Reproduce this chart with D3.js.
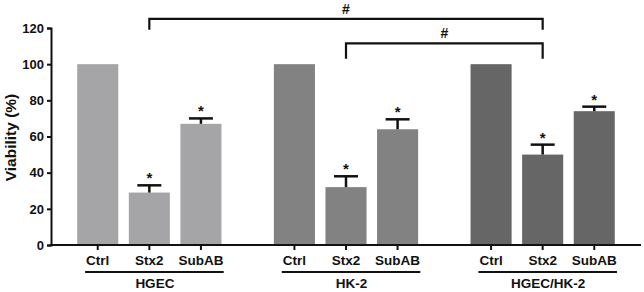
<!DOCTYPE html>
<html><head><meta charset="utf-8">
<script src="https://cdn.jsdelivr.net/npm/d3@7"></script>
<style>
body{margin:0;background:#fff;}
text{font-family:"Liberation Sans",Arial,sans-serif;font-weight:bold;fill:#111;}
</style></head>
<body><svg id="c" width="644" height="292"></svg>
<script>
const groups = ["HGEC", "HK-2", "HGEC/HK-2"];
const treatments = ["Ctrl", "Stx2", "SubAB"];
const values = [[100, 29, 67], [100, 32, 64], [100, 50, 74]];
const errors = [[0, 4, 3], [0, 6, 5.5], [0, 5.5, 2.5]];
const significant = [[false, true, true], [false, true, true], [false, true, true]];
const groupColors = ["#a5a5a7", "#828282", "#666666"];
const yTicks = [0, 20, 40, 60, 80, 100, 120];
// brackets: [fromGroup, fromTreatment, toGroup, toTreatment, topValue, legValue]
const brackets = [[0, 1, 2, 1, 125, 119], [1, 1, 2, 1, 111.5, 103]];

const svg = d3.select("#c");
const x0 = 51, x1 = 641, yTop = 28, yBot = 245;
const y = d3.scaleLinear().domain([0, 120]).range([yBot, yTop]);
const gx = d3.scaleBand().domain(groups).range([x0, x1]).paddingInner(0.213).paddingOuter(0.1065);
const ix = d3.scaleBand().domain(treatments).range([0, gx.bandwidth()]).paddingInner(0.204).paddingOuter(0.102);
const cx = (g, t) => gx(groups[g]) + ix(treatments[t]) + ix.bandwidth() / 2;

// bars
groups.forEach((g, gi) => {
  const gg = svg.append("g");
  gg.selectAll("rect").data(values[gi]).join("rect")
    .attr("x", (d, i) => gx(g) + ix(treatments[i]))
    .attr("width", ix.bandwidth())
    .attr("y", d => y(d))
    .attr("height", d => yBot - y(d))
    .attr("fill", groupColors[gi]);
  values[gi].forEach((v, i) => {
    const e = errors[gi][i];
    const c = cx(gi, i);
    if (e > 0) {
      svg.append("line").attr("x1", c).attr("x2", c).attr("y1", y(v)).attr("y2", y(v + e))
        .attr("stroke", "#111").attr("stroke-width", 2.5);
      svg.append("line").attr("x1", c - 12).attr("x2", c + 12).attr("y1", y(v + e)).attr("y2", y(v + e))
        .attr("stroke", "#111").attr("stroke-width", 2.5);
    }
    if (significant[gi][i]) {
      svg.append("text").attr("x", c).attr("y", y(v + e) - 2).attr("text-anchor", "middle")
        .style("font-size", "15px").text("*");
    }
  });
});

// y axis
const yAxis = svg.append("g").attr("transform", `translate(${x0},0)`)
  .call(d3.axisLeft(y).tickValues(yTicks).tickSize(4).tickPadding(3));
yAxis.select(".domain").attr("stroke", "#111").attr("stroke-width", 2);
yAxis.selectAll(".tick line").attr("stroke", "#111").attr("stroke-width", 2);
yAxis.selectAll(".tick text").style("font-size", "13px").style("font-family", "Liberation Sans, Arial, sans-serif").attr("fill", "#111");

// x axis
svg.append("line").attr("x1", x0 - 1).attr("x2", x1).attr("y1", yBot).attr("y2", yBot)
  .attr("stroke", "#111").attr("stroke-width", 2);
groups.forEach((g, gi) => {
  const labels = [];
  treatments.forEach((t, ti) => {
    const c = cx(gi, ti);
    svg.append("line").attr("x1", c).attr("x2", c).attr("y1", yBot).attr("y2", yBot + 5)
      .attr("stroke", "#111").attr("stroke-width", 2);
    labels.push(svg.append("text").attr("x", c).attr("y", yBot + 20).attr("text-anchor", "middle")
      .style("font-size", "13.5px").text(t));
  });
  const b0 = labels[0].node().getBBox(), b2 = labels[2].node().getBBox();
  svg.append("line").attr("x1", b0.x - 1).attr("x2", b2.x + b2.width).attr("y1", 272).attr("y2", 272)
    .attr("stroke", "#111").attr("stroke-width", 1.8);
  svg.append("text").attr("x", (b0.x + b2.x + b2.width) / 2).attr("y", 288).attr("text-anchor", "middle")
    .style("font-size", "13.5px").text(g);
});

// y title
svg.append("text").attr("transform", `translate(16,${(yTop + yBot) / 2 + 1}) rotate(-90)`)
  .attr("text-anchor", "middle").style("font-size", "15.5px").text("Viability (%)");

// brackets
brackets.forEach(b => {
  const xa = cx(b[0], b[1]), xb = cx(b[2], b[3]);
  svg.append("path").attr("d", `M${xa},${y(b[5])}V${y(b[4])}H${xb}V${y(b[5])}`)
    .attr("fill", "none").attr("stroke", "#111").attr("stroke-width", 2.2);
  svg.append("text").attr("x", (xa + xb) / 2).attr("y", y(b[4]) - 5).attr("text-anchor", "middle")
    .style("font-size", "14px").text("#");
});
</script></body></html>
